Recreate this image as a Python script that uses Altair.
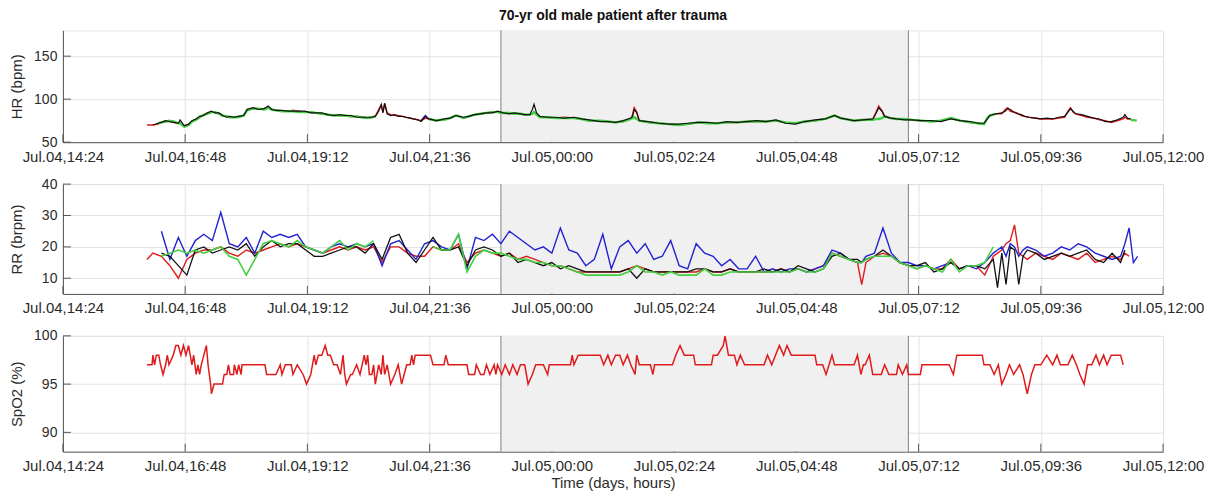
import altair as alt
import pandas as pd

FONT = "Liberation Sans"
TXT = "#2b2b2b"

# x axis: minutes since Jul.04 00:00
TICK_MIN = [864, 1008, 1152, 1296, 1440, 1584, 1728, 1872, 2016, 2160]
TICK_LABELS = ["Jul.04,14:24", "Jul.04,16:48", "Jul.04,19:12", "Jul.04,21:36",
               "Jul.05,00:00", "Jul.05,02:24", "Jul.05,04:48", "Jul.05,07:12",
               "Jul.05,09:36", "Jul.05,12:00"]
X_DOMAIN = [864, 2160]
NIGHT_START, NIGHT_END = 1380, 1860   # 23:00 -> 07:00

COLORS = {"red": "#e01b1b", "black": "#111111", "green": "#40d040", "blue": "#2222d2"}

# ---------------- HR (bpm) ----------------
hr_t = [963, 970, 976, 980, 985, 989, 995, 1000, 1002, 1007,
        1012, 1016, 1021, 1025, 1030, 1034, 1039, 1043, 1048, 1052,
        1057, 1061, 1066, 1070, 1077, 1081, 1088, 1094, 1101, 1106,
        1110, 1115, 1122, 1129, 1135, 1142, 1149, 1156, 1162, 1169,
        1176, 1183, 1190, 1196, 1203, 1210, 1216, 1223, 1228, 1232,
        1236, 1239, 1241, 1243, 1246, 1250, 1255, 1259, 1264, 1268,
        1273, 1277, 1282, 1286, 1291, 1295, 1300, 1304, 1309, 1313,
        1320, 1327, 1331, 1336, 1342, 1349, 1356, 1363, 1370, 1376,
        1383, 1390, 1396, 1403, 1408, 1414, 1417, 1419, 1422, 1426,
        1435, 1444, 1455, 1466, 1475, 1484, 1497, 1506, 1515, 1524,
        1533, 1535, 1537, 1540, 1543, 1554, 1566, 1578, 1589, 1600,
        1612, 1623, 1635, 1646, 1658, 1670, 1681, 1692, 1704, 1715,
        1727, 1738, 1750, 1762, 1773, 1780, 1796, 1807, 1818, 1822,
        1825, 1829, 1832, 1839, 1846, 1855, 1864, 1875, 1887, 1898,
        1910, 1921, 1933, 1942, 1949, 1953, 1956, 1963, 1970, 1974,
        1977, 1980, 1984, 1988, 1993, 1997, 2002, 2009, 2016, 2023,
        2030, 2037, 2044, 2048, 2051, 2054, 2057, 2064, 2071, 2078,
        2085, 2092, 2099, 2106, 2113, 2115, 2118, 2122, 2129]
hr_red = [70, 70, 71, 73, 74, 74, 73, 72, 73, 69,
          70, 74, 77, 79, 82, 84, 85, 85, 83, 81,
          80, 79, 79, 79, 81, 88, 90, 89, 89, 90,
          88, 87, 86, 86, 87, 86, 85, 85, 84, 83,
          82, 82, 81, 81, 80, 80, 79, 78, 79, 80,
          88, 93, 85, 95, 84, 82, 81, 81, 80, 79,
          78, 77, 76, 75, 78, 77, 76, 75, 76, 76,
          78, 81, 80, 78, 80, 82, 83, 84, 85, 85,
          84, 84, 83, 83, 82, 82, 83, 85, 82, 79,
          79, 78, 79, 78, 77, 75, 75, 74, 73, 74,
          77, 82, 90, 85, 75, 73, 72, 71, 70, 71,
          73, 72, 72, 73, 73, 74, 74, 74, 75, 73,
          72, 74, 75, 77, 81, 78, 75, 76, 76, 85,
          92, 86, 80, 78, 77, 77, 76, 75, 74, 75,
          78, 75, 73, 72, 71, 78, 81, 83, 83, 88,
          90, 86, 85, 84, 81, 80, 79, 78, 77, 77,
          77, 78, 79, 86, 90, 85, 83, 81, 79, 78,
          76, 75, 73, 75, 77, 79, 77, 77, None]
hr_black = [None, 70, 72, 73, 75, 74, 73, 72, 76, 69,
            71, 75, 77, 80, 81, 84, 86, 84, 84, 81,
            79, 80, 79, 80, 81, 88, 90, 88, 89, 92,
            88, 87, 87, 86, 86, 86, 86, 84, 84, 84,
            82, 81, 82, 81, 81, 79, 79, 79, 79, 80,
            86, 94, 84, 95, 83, 81, 82, 80, 80, 79,
            78, 77, 76, 74, 80, 77, 76, 75, 76, 77,
            78, 81, 80, 79, 80, 82, 83, 84, 84, 86,
            84, 83, 84, 83, 82, 82, 88, 94, 84, 80,
            79, 79, 78, 79, 77, 76, 74, 74, 73, 75,
            78, 80, 88, 84, 75, 74, 72, 71, 71, 72,
            73, 73, 72, 74, 73, 74, 75, 74, 76, 72,
            71, 74, 76, 77, 81, 78, 75, 76, 77, 84,
            90, 86, 80, 78, 77, 76, 76, 75, 75, 74,
            77, 75, 74, 72, 72, 77, 81, 83, 84, 86,
            89, 88, 85, 83, 82, 80, 79, 78, 77, 78,
            77, 79, 80, 85, 89, 86, 83, 82, 80, 78,
            77, 74, 74, 76, 79, 82, 78, 77, None]
hr_green = [None, None, 72, 73, 74, 75, 74, 72, 72, 68,
            70, 74, 76, 79, 82, 83, 85, 85, 83, 81,
            80, 79, 79, 79, 81, 87, 89, 89, 88, 90,
            88, 87, 86, 86, 86, 85, 85, 85, 84, 83,
            82, 81, 81, 81, 80, 80, 79, 78, 79, 80,
            None, None, None, None, None, None, None, None, None, None,
            None, None, None, None, None, 77, 76, 75, 76, 76,
            78, 81, 80, 78, 80, 82, 83, 84, 85, 85,
            84, 84, 83, 83, 82, 82, 83, 85, 82, 79,
            79, 78, 78, 78, 77, 75, 75, 74, 73, 74,
            77, 78, 79, 77, 75, 73, 72, 71, 70, 71,
            73, 72, 72, 73, 73, 74, 74, 74, 75, 73,
            72, 74, 75, 77, 81, 78, 75, 76, 76, 77,
            77, 78, 80, 78, 77, 77, 76, 75, 74, 75,
            78, 75, 73, 72, 71, 78, 81, 83, None, None,
            None, None, None, None, None, None, None, None, None, None,
            None, None, None, None, None, None, None, None, None, None,
            None, None, None, None, None, None, None, 76, 75]
hr_blue_t = [1286, 1289, 1291, 1295]
hr_blue = [75, 79, 81, 77]

# ---------------- RR (brpm) ----------------
rr_t = [963, 970, 980, 990, 1000, 1010, 1020, 1030, 1040, 1050,
        1060, 1070, 1080, 1090, 1100, 1110, 1120, 1130, 1140, 1150,
        1160, 1170, 1180, 1190, 1200, 1210, 1220, 1230, 1240, 1250,
        1260, 1270, 1280, 1290, 1300, 1310, 1320, 1330, 1340, 1350,
        1360, 1370, 1380, 1390, 1400, 1410, 1420, 1430, 1440, 1450,
        1460, 1470, 1480, 1490, 1500, 1510, 1520, 1530, 1540, 1550,
        1560, 1570, 1580, 1590, 1600, 1610, 1620, 1630, 1640, 1650,
        1660, 1670, 1680, 1690, 1700, 1710, 1720, 1730, 1740, 1750,
        1760, 1770, 1780, 1790, 1800, 1805, 1810, 1820, 1830, 1840,
        1850, 1860, 1870, 1880, 1890, 1900, 1910, 1920, 1930, 1940,
        1950, 1960, 1965, 1970, 1975, 1980, 1985, 1990, 1995, 2000,
        2010, 2020, 2030, 2040, 2050, 2060, 2070, 2080, 2090, 2100,
        2110, 2115, 2120, 2125, 2130]
rr_red = [16, 18, 17, 14, 10, 16, 18, 19, 19, 20,
          18, 17, 19, 18, 19, 20, 21, 20, 21, 20,
          19, 18, 19, 20, 19, 20, 19, 20, 15, 20,
          20, 18, 17, 17, 20, 19, 19, 21, 15, 18,
          19, 18, 17, 18, 16, 17, 16, 15, 14, 14,
          13, 12, 12, 12, 12, 12, 12, 13, 14, 13,
          12, 12, 12, 12, 12, 12, 13, 12, 12, 13,
          12, 12, 12, 12, 12, 13, 12, 13, 12, 13,
          14, 18, 17, 16, 15, 8, 15, 17, 18, 17,
          15, 14, 13, 14, 13, 13, 16, 13, 14, 14,
          11, 17, 18, 19, 21, 22, 27, 18, 17, 16,
          18, 17, 16, 18, 17, 16, 18, 15, 16, 17,
          16, 18, 17, None, None]
rr_blue = [None, None, 25, 16, 23, 17, 22, 24, 22, 31,
           21, 20, 23, 18, 25, 23, 24, 23, 24, 20,
           19, 18, 20, 21, 20, 21, 20, 21, 14, 21,
           22, 19, 16, 21, 22, 20, 19, 24, 13, 23,
           22, 24, 21, 25, 23, 21, 19, 20, 18, 26,
           19, 18, 14, 16, 24, 13, 20, 22, 18, 21,
           16, 17, 22, 14, 13, 21, 18, 17, 14, 16,
           13, 13, 17, 12, 13, 12, 13, 13, 12, 13,
           14, 19, 18, 16, 15, 15, 17, 18, 26, 18,
           15, 15, 14, 14, 13, 14, 15, 13, 14, 13,
           15, 18, 19, 20, 17, 21, 20, 17, 19, 20,
           19, 17, 18, 20, 19, 21, 20, 18, 17, 16,
           17, 21, 26, 15, 17]
rr_black = [None, None, 18, 17, 14, 11, 19, 20, 18, 19,
            20, 19, 21, 17, 20, 22, 20, 21, 21, 19,
            17, 17, 18, 19, 20, 20, 18, 21, 16, 23,
            24, 18, 15, 19, 23, 19, 19, 20, 14, 19,
            20, 19, 17, 18, 15, 16, 15, 14, 15, 13,
            14, 13, 12, 12, 12, 12, 12, 13, 10, 13,
            12, 12, 12, 12, 12, 13, 13, 12, 12, 13,
            12, 12, 12, 13, 12, 13, 12, 14, 13, 12,
            13, 17, 18, 16, 16, 15, 16, 17, 19, 17,
            15, 14, 14, 15, 12, 13, 15, 13, 14, 14,
            13, 16, 7, 18, 8, 20, 19, 8, 17, 19,
            18, 16, 17, 18, 17, 18, 19, 16, 15, 18,
            15, 19, None, None, None]
rr_green = [None, None, 17, 18, 19, 18, 19, 18, 19, 20,
            17, 16, 11, 16, 21, 22, 21, 20, 22, 20,
            19, 18, 20, 22, 19, 21, 20, 22, None, None,
            None, None, None, None, 20, 19, 19, 24, 12, 17,
            19, 18, 18, 17, 16, 16, 15, 15, 14, 14,
            13, 12, 11, 11, 11, 11, 11, 12, 14, 12,
            12, 11, 12, 11, 11, 11, 13, 11, 11, 12,
            12, 12, 12, 12, 12, 12, 12, 13, 12, 12,
            13, 18, 17, 16, 15, 15, 16, 17, 17, 17,
            15, 14, 13, 14, 13, 12, 16, 12, 14, 14,
            15, 20, None, None, None, None, None, None, None, None,
            None, None, None, None, None, None, None, None, None, None,
            None, None, None, None, None]

# ---------------- SpO2 (%) ----------------
spo2_t = [963, 969, 970, 972, 974, 977, 979, 982, 985, 987,
          989, 994, 997, 1000, 1003, 1006, 1009, 1012, 1014, 1016,
          1018, 1021, 1023, 1025, 1027, 1030, 1033, 1035, 1038, 1039,
          1042, 1048, 1052, 1054, 1057, 1059, 1061, 1065, 1066, 1069,
          1071, 1074, 1075, 1079, 1102, 1104, 1115, 1120, 1122, 1126,
          1133, 1135, 1140, 1147, 1151, 1156, 1160, 1162, 1165, 1169,
          1173, 1176, 1179, 1183, 1187, 1191, 1194, 1196, 1198, 1203,
          1205, 1210, 1214, 1219, 1221, 1223, 1225, 1228, 1230, 1232,
          1236, 1239, 1241, 1243, 1246, 1248, 1250, 1255, 1259, 1263,
          1266, 1269, 1273, 1275, 1277, 1279, 1286, 1297, 1300, 1313,
          1315, 1318, 1322, 1340, 1342, 1349, 1351, 1356, 1360, 1363,
          1367, 1372, 1374, 1376, 1381, 1385, 1390, 1394, 1399, 1403,
          1408, 1412, 1417, 1421, 1430, 1435, 1437, 1457, 1462, 1464,
          1466, 1471, 1497, 1501, 1506, 1510, 1515, 1520, 1524, 1529,
          1533, 1538, 1540, 1543, 1547, 1556, 1559, 1561, 1566, 1582,
          1586, 1591, 1596, 1607, 1609, 1628, 1630, 1635, 1642, 1644,
          1648, 1655, 1658, 1662, 1667, 1671, 1681, 1690, 1694, 1699,
          1708, 1713, 1717, 1722, 1750, 1752, 1759, 1763, 1770, 1773,
          1796, 1800, 1804, 1807, 1809, 1814, 1818, 1828, 1832, 1837,
          1846, 1848, 1853, 1858, 1860, 1874, 1876, 1908, 1913, 1917,
          1947, 1949, 1956, 1961, 1966, 1970, 1975, 1979, 1984, 1991,
          1995, 2000, 2005, 2009, 2016, 2023, 2030, 2035, 2039, 2048,
          2053, 2058, 2062, 2067, 2071, 2076, 2081, 2085, 2090, 2094,
          2099, 2110, 2113]
spo2_v = [97, 97, 98, 97, 98, 98, 97, 96, 97, 98,
          97, 98, 99, 99, 98, 99, 98, 99, 98, 97,
          98, 96, 97, 96, 97, 98, 99, 97, 95, 94,
          95, 95, 95, 96, 96, 97, 96, 96, 97, 96,
          97, 96, 97, 97, 97, 96, 96, 97, 96, 97,
          97, 96, 97, 96, 95, 96, 98, 97, 98, 98,
          99, 98, 98, 97, 97, 96, 98, 96, 95, 96,
          96, 97, 96, 98, 97, 98, 96, 96, 97, 95,
          97, 96, 98, 96, 97, 96, 95, 96, 97, 95,
          96, 97, 97, 98, 97, 98, 98, 98, 97, 97,
          98, 97, 97, 97, 96, 96, 97, 96, 96, 97,
          96, 97, 96, 97, 96, 97, 96, 97, 96, 97,
          97, 95, 96, 97, 97, 96, 97, 97, 97, 98,
          97, 98, 98, 97, 98, 97, 98, 98, 97, 98,
          97, 96, 98, 97, 97, 97, 96, 97, 97, 97,
          98, 99, 98, 98, 97, 97, 98, 98, 99, 100,
          98, 98, 97, 98, 97, 97, 97, 97, 98, 97,
          99, 98, 99, 98, 98, 97, 97, 96, 98, 97,
          97, 98, 96, 97, 97, 98, 96, 96, 97, 96,
          96, 97, 96, 97, 96, 96, 97, 97, 96, 98,
          98, 97, 97, 96, 97, 95, 96, 97, 96, 97,
          96, 94, 96, 97, 97, 98, 97, 98, 97, 97,
          98, 97, 96, 95, 97, 97, 98, 97, 98, 97,
          98, 98, 97]

label_expr = "{" + ",".join(f"'{m}':'{l}'" for m, l in zip(TICK_MIN, TICK_LABELS)) + "}[''+datum.value]"


def segments(times, values):
    rows, seg, gap = [], 0, True
    for t, v in zip(times, values):
        if v is None:
            gap = True
            continue
        if gap:
            seg += 1
            gap = False
        rows.append({"t": t, "v": v, "seg": seg})
    return pd.DataFrame(rows)


def panel(series, ydom, yticks, ytitle, h, xtitle=None, title=None):
    xs = alt.Scale(domain=X_DOMAIN, nice=False, zero=False)
    ys = alt.Scale(domain=ydom, nice=False, zero=False)
    xaxis = alt.Axis(values=TICK_MIN, labelExpr=label_expr, grid=True, gridColor="#e2e2e2",
                     ticks=False, domainColor="#555555", labelFont=FONT, labelFontSize=15,
                     labelColor=TXT, labelPadding=7, labelOverlap=False, labelFlush=False,
                     title=xtitle, titleFont=FONT, titleFontSize=15, titleFontWeight="normal",
                     titleColor=TXT, titlePadding=2)
    yaxis = alt.Axis(values=yticks, grid=True, gridColor="#e2e2e2", ticks=False,
                     domainColor="#555555", labelFont=FONT, labelFontSize=14, labelColor=TXT,
                     labelPadding=6, labelFlush=False, title=ytitle, titleFont=FONT,
                     titleFontSize=15, titleFontWeight="normal", titleColor=TXT, titleX=-46,
                     titleBaseline="middle")

    def X(f):
        return alt.X(f, type="quantitative", scale=xs, axis=xaxis)

    def Y(f):
        return alt.Y(f, type="quantitative", scale=ys, axis=yaxis)

    xt = alt.Chart(pd.DataFrame({"t": TICK_MIN})).mark_rule(color="#555555").encode(
        x=X("t"), y=alt.value(h), y2=alt.value(h - 8))
    yt = alt.Chart(pd.DataFrame({"v": yticks})).mark_rule(color="#555555").encode(
        x=alt.value(0), x2=alt.value(8), y=Y("v"))
    shade = alt.Chart(pd.DataFrame({"a": [NIGHT_START], "b": [NIGHT_END]})).mark_rect(
        color="#f0f0f0").encode(x=X("a"), x2="b", y=alt.value(0), y2=alt.value(h - 0.5))
    bnd = alt.Chart(pd.DataFrame({"t": [NIGHT_START, NIGHT_END]})).mark_rule(
        color="#808080").encode(x=X("t"), y=alt.value(0), y2=alt.value(h))
    layers = [xt, yt, shade, bnd]
    for color, df, w in series:
        layers.append(alt.Chart(df).mark_line(color=COLORS[color], strokeWidth=w, clip=True)
                      .encode(x=X("t"), y=Y("v"), detail="seg:N"))
    ch = alt.layer(*layers).properties(width=1102, height=h)
    if title:
        ch = ch.properties(title=alt.TitleParams(title, font=FONT, fontSize=14, fontWeight="bold",
                                                 color="#111111", anchor="middle", frame="group",
                                                 offset=7))
    return ch


hr_series = [("red", segments(hr_t, hr_red), 1.5),
             ("green", segments(hr_t, hr_green), 2.4),
             ("blue", segments(hr_blue_t, hr_blue), 1.3),
             ("black", segments(hr_t, hr_black), 1.2)]
rr_series = [("red", segments(rr_t, rr_red), 1.4),
             ("blue", segments(rr_t, rr_blue), 1.4),
             ("black", segments(rr_t, rr_black), 1.3),
             ("green", segments(rr_t, rr_green), 1.6)]
sp_series = [("red", segments(spo2_t, spo2_v), 1.5)]

p1 = panel(hr_series, [50, 180], [50, 100, 150], "HR (bpm)", 112,
           title="70-yr old male patient after trauma")
p2 = panel(rr_series, [5, 40], [10, 20, 30, 40], "RR (brpm)", 110)
p3 = panel(sp_series, [88, 100], [90, 95, 100], "SpO2 (%)", 116, xtitle="Time (days, hours)")

chart = alt.vconcat(p1, p2, p3, spacing=42, bounds="flush").properties(
    padding={"left": 1, "top": 0, "right": 0, "bottom": 0}
).configure_view(stroke="#e4e4e4")

chart.save("out.html", embed_options={"renderer": "svg", "actions": False})
